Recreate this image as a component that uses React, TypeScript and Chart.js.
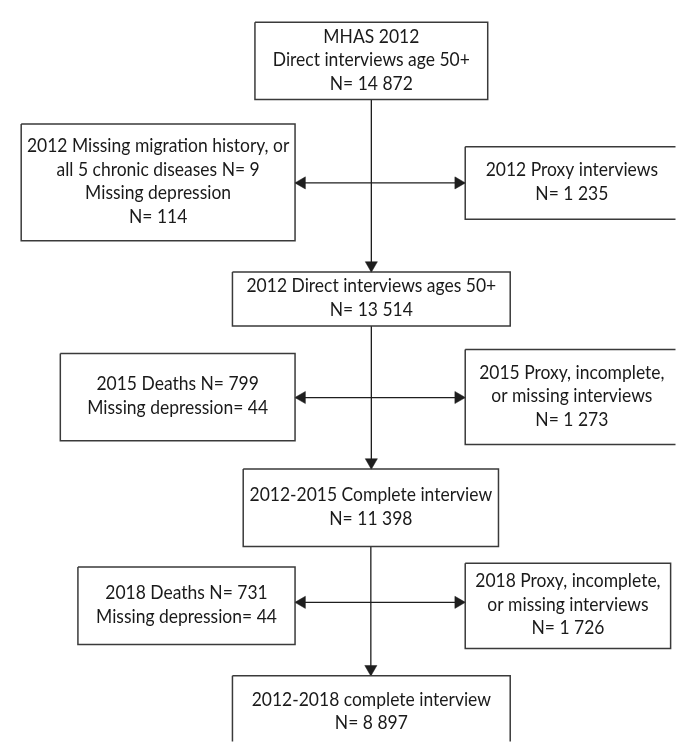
import { useEffect, useRef } from "react";
import { Chart, registerables } from "chart.js";

Chart.register(...registerables);

const CANVAS_W = 683;
const CANVAS_H = 749;

// Text of every box, top to bottom, left to right
const boxLabels: string[][] = [
  ["MHAS 2012", "Direct interviews age 50+", "N= 14 872"],
  ["2012 Missing migration history, or", "all 5 chronic diseases N= 9", "Missing depression", "N= 114"],
  ["2012 Proxy interviews", "N= 1 235"],
  ["2012 Direct interviews ages 50+", "N= 13 514"],
  ["2015 Deaths N= 799", "Missing depression= 44"],
  ["2015 Proxy, incomplete,", "or missing interviews", "N= 1 273"],
  ["2012-2015 Complete interview", "N= 11 398"],
  ["2018 Deaths N= 731", "Missing depression= 44"],
  ["2018 Proxy, incomplete,", "or missing interviews", "N= 1 726"],
  ["2012-2018 complete interview", "N= 8 897"],
];

// Box extents in chart units
const boxLeft = [253, 14, 468, 230, 54, 468, 241, 72, 468, 230];
const boxRight = [491, 294, 686, 514, 294, 686, 502, 294, 678, 514];
const boxTop = [15, 119, 142, 270, 353, 349, 471, 571, 567, 682];
const boxBottom = [94, 238, 216, 325, 442, 446, 550, 650, 654, 757];

// Flow connections: main column (from box -> to box)
const mainFrom = [0, 3, 6];
const mainTo = [3, 6, 9];
// Side branches: [left box, right box] with their vertical level
const branchLeft = [1, 4, 7];
const branchRight = [2, 5, 8];
const branchLevel = [179, 398, 607];

const LINE_COLOR = "#1e1e1e";
const BOX_COLOR = "#3a3a3a";
const TEXT_COLOR = "#1a1a1a";
const HEAD = 7;
const TEXT_SQUEEZE = 0.92;

export default function App() {
  const ref = useRef<HTMLCanvasElement | null>(null);

  useEffect(() => {
    let chart: Chart | null = null;
    let cancelled = false;

    const build = () => {
      if (cancelled || !ref.current) return;
      const datasets: any[] = [];

      // boxes
      boxLabels.forEach((_, i) => {
        const l = boxLeft[i], r = boxRight[i], t = boxTop[i], b = boxBottom[i];
        datasets.push({
          data: [
            { x: l, y: t }, { x: r, y: t }, { x: r, y: b }, { x: l, y: b }, { x: l, y: t },
          ],
          showLine: true,
          borderColor: BOX_COLOR,
          borderWidth: 1.5,
          borderJoinStyle: "miter",
          pointRadius: 0,
          fill: false,
          tension: 0,
        });
      });

      const heads: { x: number; y: number; rot: number }[] = [];
      const centerX = (i: number) => (boxLeft[i] + boxRight[i]) / 2;

      // main column
      mainFrom.forEach((f, k) => {
        const to = mainTo[k];
        const x = centerX(f);
        datasets.push({
          data: [{ x, y: boxBottom[f] }, { x, y: boxTop[to] }],
          showLine: true,
          borderColor: LINE_COLOR,
          borderWidth: 1.3,
          pointRadius: 0,
        });
        heads.push({ x, y: boxTop[to] - HEAD, rot: 180 });
      });

      // branches
      branchLeft.forEach((lb, k) => {
        const rb = branchRight[k];
        const y = branchLevel[k];
        datasets.push({
          data: [{ x: boxRight[lb], y }, { x: boxLeft[rb], y }],
          showLine: true,
          borderColor: LINE_COLOR,
          borderWidth: 1.3,
          pointRadius: 0,
        });
        heads.push({ x: boxRight[lb] + HEAD, y, rot: 270 });
        heads.push({ x: boxLeft[rb] - HEAD, y, rot: 90 });
      });

      datasets.push({
        data: heads.map((h) => ({ x: h.x, y: h.y })),
        showLine: false,
        pointStyle: "triangle",
        pointRadius: HEAD,
        pointRotation: heads.map((h) => h.rot),
        backgroundColor: LINE_COLOR,
        borderColor: LINE_COLOR,
        borderWidth: 0.5,
      });

      const textPlugin = {
        id: "boxText",
        afterDatasetsDraw(c: any) {
          const ctx = c.ctx as CanvasRenderingContext2D;
          const xs = c.scales.x;
          const ys = c.scales.y;
          ctx.save();
          ctx.font = "19px Lato";
          ctx.fillStyle = TEXT_COLOR;
          ctx.textAlign = "center";
          ctx.textBaseline = "middle";
          boxLabels.forEach((lines, i) => {
            const cx = xs.getPixelForValue((boxLeft[i] + boxRight[i]) / 2);
            const cy = ys.getPixelForValue((boxTop[i] + boxBottom[i]) / 2) - 1;
            const gap = 23.5;
            lines.forEach((ln, j) => {
              ctx.save();
              ctx.translate(cx, cy + (j - (lines.length - 1) / 2) * gap);
              ctx.scale(TEXT_SQUEEZE, 1);
              ctx.fillText(ln, 0, 0);
              ctx.restore();
            });
          });
          ctx.restore();
        },
      };

      chart = new Chart(ref.current, {
        type: "scatter",
        data: { datasets },
        options: {
          animation: false,
          responsive: false,
          maintainAspectRatio: false,
          devicePixelRatio: 1,
          layout: { padding: 0 },
          plugins: { legend: { display: false }, tooltip: { enabled: false } },
          events: [],
          scales: {
            x: { type: "linear", min: 0, max: CANVAS_W, display: false },
            y: { type: "linear", min: 0, max: CANVAS_H, reverse: true, display: false },
          },
        },
        plugins: [textPlugin],
      });
    };

    const fonts: any = (document as any).fonts;
    if (fonts && fonts.load) {
      fonts.load("19px Lato").then(build, build);
    } else {
      build();
    }

    return () => {
      cancelled = true;
      if (chart) chart.destroy();
    };
  }, []);

  return (
    <div style={{ position: "absolute", left: 0, top: 0, width: CANVAS_W, height: CANVAS_H, background: "#fff" }}>
      <canvas ref={ref} width={CANVAS_W} height={CANVAS_H} />
    </div>
  );
}
